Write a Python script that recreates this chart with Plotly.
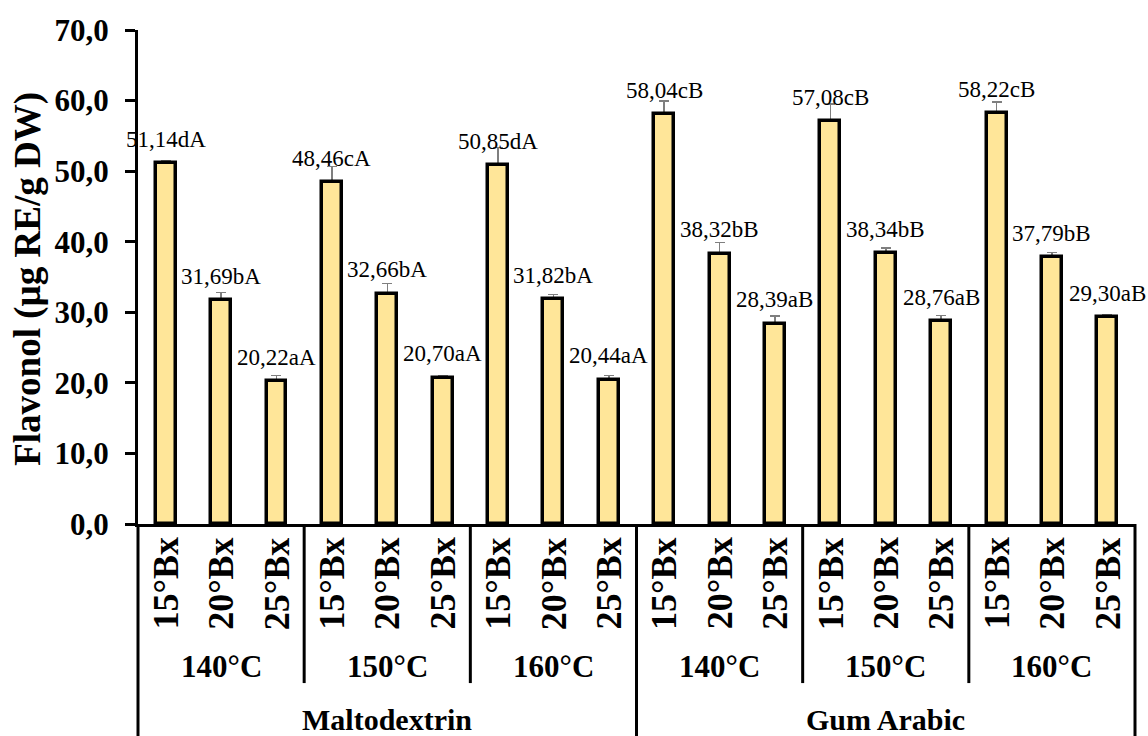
import plotly.graph_objects as go

materials = ["Maltodextrin", "Gum Arabic"]
temperatures = ["140°C", "150°C", "160°C"]
brix = ["15°Bx", "20°Bx", "25°Bx"]

values = [51.14, 31.69, 20.22, 48.46, 32.66, 20.70, 50.85, 31.82, 20.44,
          58.04, 38.32, 28.39, 57.08, 38.34, 28.76, 58.22, 37.79, 29.30]
errors = [0.3, 1.1, 0.8, 2.2, 1.4, 0.3, 2.5, 0.7, 0.6,
          1.9, 1.6, 1.1, 2.4, 0.8, 0.8, 1.6, 0.7, 0.3]
letters = ["dA", "bA", "aA", "cA", "bA", "aA", "dA", "bA", "aA",
           "cB", "bB", "aB", "cB", "bB", "aB", "cB", "bB", "aB"]

FONT = "Liberation Serif"
n = len(values)
xs = list(range(n))

fig = go.Figure()
# error bars (drawn first, so the opaque bars hide the part below each bar top)
fig.add_trace(go.Bar(
    x=xs, y=values, width=0.36,
    marker=dict(color="rgba(0,0,0,0)", line=dict(width=0)),
    error_y=dict(type="data", array=errors, visible=True, color="#7f7f7f",
                 thickness=1.5, width=5),
    showlegend=False, hoverinfo="skip",
))
fig.add_trace(go.Bar(
    x=xs, y=values, width=0.36,
    marker=dict(color="#FFE699", line=dict(color="black", width=3.5)),
    showlegend=False,
))

annotations = []
for i, (v, l) in enumerate(zip(values, letters)):
    annotations.append(dict(
        x=i, y=v, xref="x", yref="y", text=f"{v:.2f}".replace(".", ",") + l,
        showarrow=False, yanchor="middle", yshift=24,
        font=dict(family=FONT, size=23, color="black"),
    ))

# level 1: Brix labels
for i in range(n):
    annotations.append(dict(
        x=i, y=-0.121, xref="x", yref="paper", text=brix[i % 3],
        textangle=-90, showarrow=False, xanchor="center", yanchor="middle",
        font=dict(family=FONT, size=36, color="black", weight="bold"),
    ))
# level 2: temperatures
for g in range(6):
    annotations.append(dict(
        x=g * 3 + 1, y=-0.289, xref="x", yref="paper", text=temperatures[g % 3],
        showarrow=False, xanchor="center", yanchor="middle",
        font=dict(family=FONT, size=31, color="black", weight="bold"),
    ))
# level 3: materials
for m in range(2):
    annotations.append(dict(
        x=m * 9 + 4, y=-0.395, xref="x", yref="paper", text=materials[m],
        showarrow=False, xanchor="center", yanchor="middle",
        font=dict(family=FONT, size=30, color="black", weight="bold"),
    ))
# y-axis title
annotations.append(dict(
    x=-0.110, y=0.497, xref="paper", yref="paper", text="Flavonol (µg RE/g DW)",
    textangle=-90, showarrow=False, xanchor="center", yanchor="middle",
    font=dict(family=FONT, size=37, color="black", weight="bold"),
))

shapes = []
for b in range(n // 3 + 1):
    xp = b * 3 / n
    if b in (0, 3, 6):
        y0 = -0.44
    else:
        y0 = -0.322
    shapes.append(dict(type="line", xref="paper", yref="paper",
                       x0=xp, x1=xp, y0=0, y1=y0,
                       line=dict(color="black", width=3)))

fig.update_layout(
    width=1148, height=736,
    margin=dict(l=138, r=13, t=30, b=212, autoexpand=False),
    plot_bgcolor="white", paper_bgcolor="white",
    separators=", ",
    barmode="overlay",
    annotations=annotations, shapes=shapes,
    xaxis=dict(range=[-0.5, n - 0.5], showticklabels=False, ticks="",
               showgrid=False, zeroline=False, showline=True,
               linecolor="black", linewidth=3),
    yaxis=dict(range=[0, 70], dtick=10, tickformat=".1f", showgrid=False,
               zeroline=False, showline=True, linecolor="black", linewidth=3,
               ticks="outside", ticklen=10, tickwidth=3, tickcolor="black",
               ticklabelstandoff=10,
               tickfont=dict(family=FONT, size=31, color="black", weight="bold")),
    bargap=0,
)

fig.write_html(
    "out.html",
    config={"displayModeBar": False},
    post_script="document.body.style.margin='0';document.body.style.overflow='hidden';",
)
